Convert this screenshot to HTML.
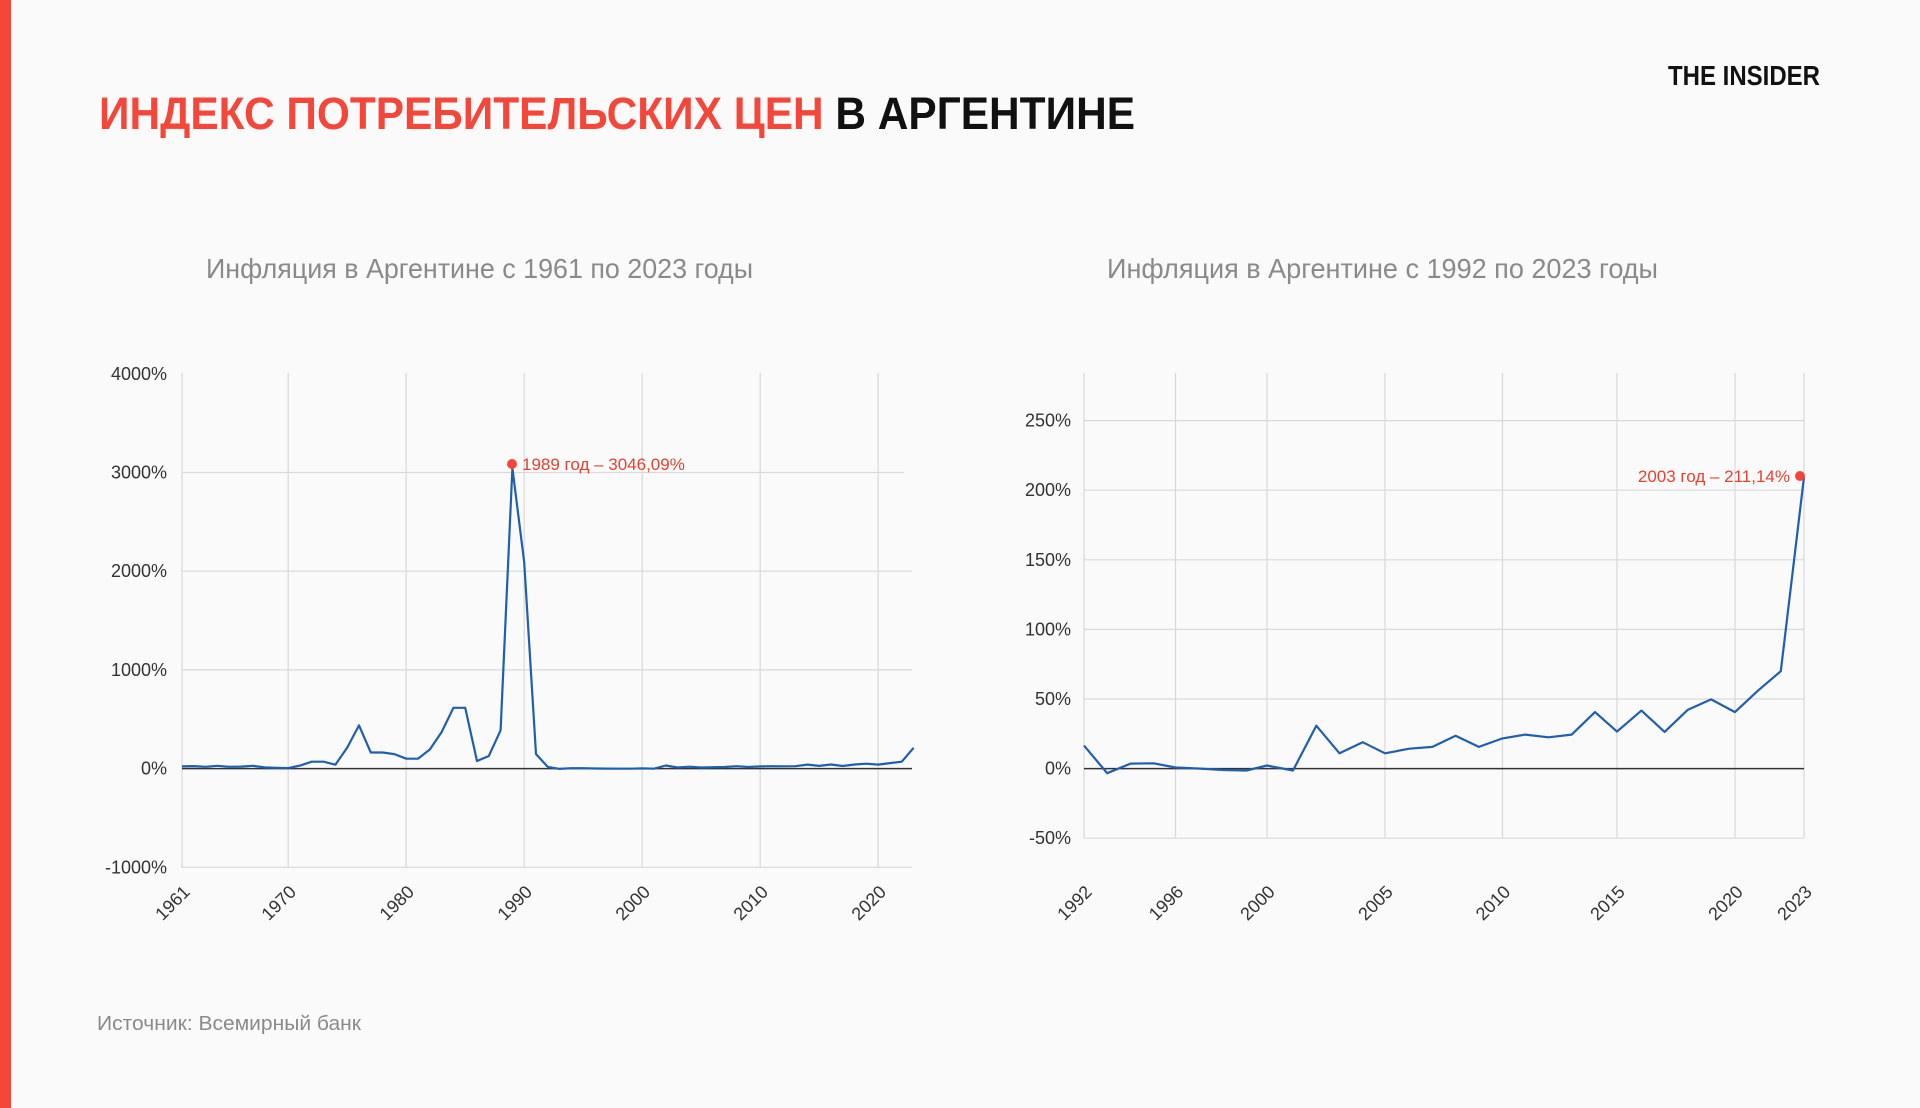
<!DOCTYPE html>
<html><head><meta charset="utf-8">
<style>
html,body{margin:0;padding:0;background:#fafafa;}
svg{display:block;}
text{font-family:"Liberation Sans",sans-serif;}
</style></head>
<body>
<svg id="s" width="1920" height="1108" viewBox="0 0 1920 1108" xmlns="http://www.w3.org/2000/svg">
<rect width="1920" height="1108" fill="#fafafa"/>
<rect x="0" y="0" width="11" height="1108" fill="#f4473a"/>
<text x="99" y="129" font-size="45" font-weight="bold" textLength="1036" lengthAdjust="spacingAndGlyphs"><tspan fill="#f4473a">ИНДЕКС ПОТРЕБИТЕЛЬСКИХ ЦЕН </tspan><tspan fill="#111">В АРГЕНТИНЕ</tspan></text>
<text x="1668" y="85" font-size="28" font-weight="bold" fill="#111" textLength="152" lengthAdjust="spacingAndGlyphs">THE INSIDER</text>
<text x="206" y="278" font-size="28" fill="#8a8a8a" textLength="547" lengthAdjust="spacingAndGlyphs">Инфляция в Аргентине с 1961 по 2023 годы</text>
<text x="1107" y="278" font-size="28" fill="#8a8a8a" textLength="551" lengthAdjust="spacingAndGlyphs">Инфляция в Аргентине с 1992 по 2023 годы</text>
<text x="97" y="1030" font-size="20" fill="#8a8a8a" textLength="264" lengthAdjust="spacingAndGlyphs">Источник: Всемирный банк</text>
<g id="c1"></g>
<g id="c2"></g>
</svg>
<script>
var NS="http://www.w3.org/2000/svg";
function el(p,n,a,t){var e=document.createElementNS(NS,n);for(var k in a)e.setAttribute(k,a[k]);if(t!=null)e.textContent=t;p.appendChild(e);return e;}
// Chart 1
(function(){
 var g=document.getElementById('c1');
 var L=182,R=912,x0=1961,px=11.8;
 function X(y){return L+(y-x0)*px;}
 function Y(v){return 768.6-v*0.0987;}
 [3000,2000,1000,-1000].forEach(function(v){
   var right=(v==3000)?904:912;
   el(g,'line',{x1:L,x2:right,y1:Y(v),y2:Y(v),stroke:'#d9d9d9','stroke-width':1.2});
 });
 [1970,1980,1990,2000,2010,2020].forEach(function(y){
   el(g,'line',{x1:X(y),x2:X(y),y1:373,y2:868,stroke:'#d9d9d9','stroke-width':1.2});
 });
 el(g,'line',{x1:L,x2:L,y1:373,y2:868,stroke:'#d9d9d9','stroke-width':1.2});
 el(g,'line',{x1:L,x2:R,y1:Y(0),y2:Y(0),stroke:'#333','stroke-width':1.5});
 [4000,3000,2000,1000,0,-1000].forEach(function(v){
   el(g,'text',{x:167,y:Y(v)+6,'font-size':18,fill:'#333','text-anchor':'end'},v+'%');
 });
 [1961,1970,1980,1990,2000,2010,2020].forEach(function(y){
   var x=X(y)+9,yy=893;
   el(g,'text',{x:x,y:yy,'font-size':18,fill:'#333','text-anchor':'end',transform:'rotate(-45 '+x+' '+yy+')'},y);
 });
 var d={1961:22,1962:25,1963:18,1964:28,1965:18,1966:20,1967:28,1968:12,1969:8,1970:5,1971:30,1972:70,1973:70,1974:40,1975:213,1976:438,1977:163,1978:163,1979:147,1980:100,1981:100,1982:194,1983:370,1984:616,1985:616,1986:77,1987:128,1988:388,1989:3046,1990:2090,1991:147,1992:17,1993:-3,1994:4,1995:4,1996:1,1997:0,1998:-1,1999:-1,2000:2,2001:-1,2002:31,2003:11,2004:19,2005:11,2006:14,2007:16,2008:24,2009:16,2010:22,2011:24,2012:23,2013:24,2014:41,2015:27,2016:42,2017:26,2018:42,2019:50,2020:41,2021:56,2022:70,2023:211};
 var pts=[];for(var y=1961;y<=2023;y++)pts.push(X(y).toFixed(1)+','+Y(d[y]).toFixed(1));
 el(g,'polyline',{points:pts.join(' '),fill:'none',stroke:'#1f5fae','stroke-width':2.2,'stroke-linejoin':'round'});
 el(g,'circle',{cx:512,cy:464,r:5,fill:'#f4473a'});
 el(g,'text',{x:522,y:470,'font-size':17,fill:'#e8412f'},'1989 год – 3046,09%');
})();
// Chart 2
(function(){
 var g=document.getElementById('c2');
 var L=1084,R=1804,x0=1992,px=(1804-1084)/31;
 function X(y){return L+(y-x0)*px;}
 function Y(v){return 768.6-v*1.392;}
 [250,200,150,100,50,-50].forEach(function(v){
   el(g,'line',{x1:L,x2:R,y1:Y(v),y2:Y(v),stroke:'#d9d9d9','stroke-width':1.2});
 });
 var tk={1992:1084,1996:1175.5,2000:1267,2005:1385,2010:1502.5,2015:1617,2020:1735,2023:1804};
 for(var k in tk){el(g,'line',{x1:tk[k],x2:tk[k],y1:373,y2:838,stroke:'#d9d9d9','stroke-width':1.2});}
 el(g,'line',{x1:L,x2:R,y1:Y(0),y2:Y(0),stroke:'#333','stroke-width':1.5});
 [250,200,150,100,50,0,-50].forEach(function(v){
   el(g,'text',{x:1071,y:Y(v)+6,'font-size':18,fill:'#333','text-anchor':'end'},v+'%');
 });
 for(var k in tk){var x=tk[k]+9,yy=893;
   el(g,'text',{x:x,y:yy,'font-size':18,fill:'#333','text-anchor':'end',transform:'rotate(-45 '+x+' '+yy+')'},k);}
 var v=[16.5,-3.3,3.6,3.8,0.8,0,-1,-1.4,2.2,-1.4,30.8,11,19,11,14.3,15.6,23.6,15.6,21.7,24.4,22.5,24.4,40.6,26.6,41.7,26.4,42.3,49.7,40.6,55.7,70,209.5];
 var pts=v.map(function(a,i){var y=1992+i;var x=tk[y]!==undefined?tk[y]:X(y);return x.toFixed(1)+','+Y(a).toFixed(1);});
 el(g,'polyline',{points:pts.join(' '),fill:'none',stroke:'#1f5fae','stroke-width':2.2,'stroke-linejoin':'round'});
 el(g,'circle',{cx:1800,cy:476,r:5,fill:'#f4473a'});
 el(g,'text',{x:1790,y:482,'font-size':17,fill:'#e8412f','text-anchor':'end'},'2003 год – 211,14%');
})();
</script>
</body></html>
